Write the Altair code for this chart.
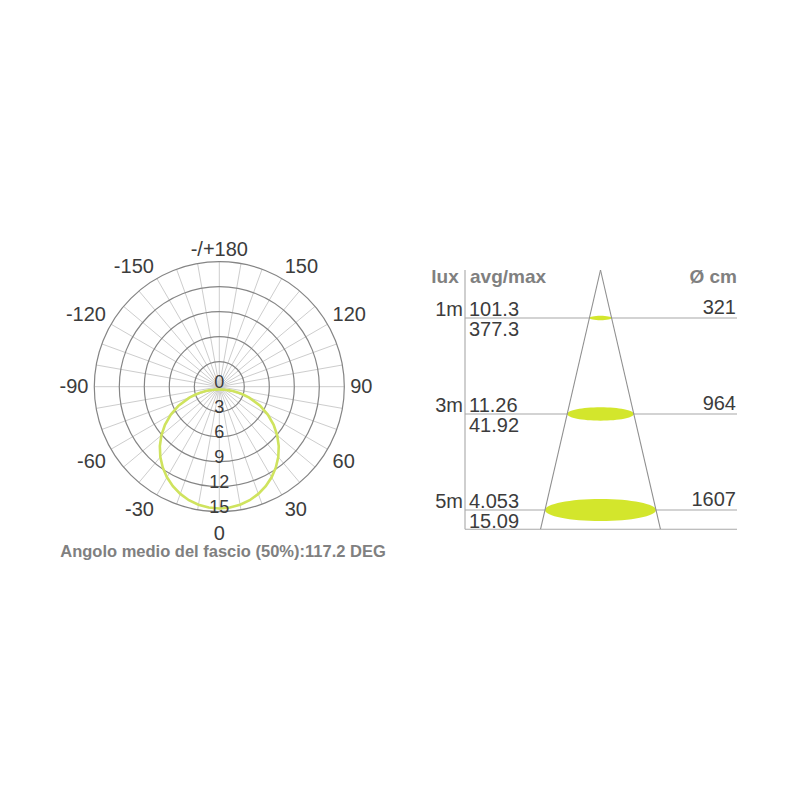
import altair as alt
import pandas as pd

# ---------------- data ----------------
# polar diagram
ring_values = [3, 6, 9, 12, 15]
radial_label_values = [0, 3, 6, 9, 12, 15]
spoke_angles = list(range(0, 360, 10))
angle_ticks = [0, 30, 60, 90, 120, 150, 180, -150, -120, -90, -60, -30]
angle_labels = ["0", "30", "60", "90", "120", "150", "-/+180",
                "-150", "-120", "-90", "-60", "-30"]
# light distribution curve (angle in degrees from nadir, intensity), traced in order
curve_angles = [-72.8, -72, -70, -65, -60, -55, -50, -45, -40, -35, -30, -25, -20, -15,
                -10, -5, 0, 5, 10, 15, 20, 25, 30, 35, 40, 45, 50, 55, 60, 65, 70, 72,
                72.8, 72, 70, 65, 60, 45, 30, 15, 0, -15, -30, -45, -60, -65, -70, -72, -72.8]
curve_values = [2.21, 2.92, 3.82, 5.40, 6.74, 7.96, 9.07, 10.09, 11.01, 11.83, 12.56, 13.18,
                13.69, 14.10, 14.39, 14.56, 14.62, 14.56, 14.39, 14.10, 13.69, 13.18, 12.56,
                11.83, 11.01, 10.09, 9.07, 7.96, 6.74, 5.40, 3.82, 2.92,
                2.21, 1.70, 1.30, 0.92, 0.74, 0.49, 0.40, 0.35, 0.34, 0.35, 0.40, 0.49,
                0.74, 0.92, 1.30, 1.70, 2.21]
subtitle = "Angolo medio del fascio (50%):117.2 DEG"

# cone diagram
distances = [1, 3, 5]
distance_labels = ["1m", "3m", "5m"]
lux_avg = ["101.3", "11.26", "4.053"]
lux_max = ["377.3", "41.92", "15.09"]
diameter_cm = [321, 964, 1607]
diameter_labels = ["321", "964", "1607"]
cone_depth = 5.4
header_labels = ["lux", "avg/max", "Ø cm"]

# ---------------- layout ----------------
FONT = "Liberation Sans"
W = H = 784
X0 = Y0 = 8
PPU = 125 / 15            # px per intensity unit
CX, CY = 219.3, 386.7     # polar centre (page px)
APX, APY = 600.5, 270     # cone apex (page px)
PXM = 48                  # px per metre
PXCM = 111 / 1607         # px per cm of diameter

DARK = "#3c3c3c"
GREY_TXT = "#808080"
LIME = "#d3e62c"
CURVE = "#cfe35e"

px = alt.Scale(domain=[-(CX - X0) / PPU, (X0 + W - CX) / PPU], nice=False, zero=False)
py = alt.Scale(domain=[-(CY - Y0) / PPU, (Y0 + H - CY) / PPU], nice=False, zero=False, reverse=True)
cx_s = alt.Scale(domain=[-(APX - X0) / PXCM, (X0 + W - APX) / PXCM], nice=False, zero=False)
cy_s = alt.Scale(domain=[-(APY - Y0) / PXM, (Y0 + H - APY) / PXM], nice=False, zero=False, reverse=True)

# ---------------- polar group ----------------
spokes = alt.Chart(pd.DataFrame({"a": spoke_angles, "r": 15})).transform_calculate(
    x0="0", y0="0",
    x1="datum.r*sin(datum.a*PI/180)", y1="datum.r*cos(datum.a*PI/180)"
).mark_rule(color="#cdcdcd", strokeWidth=1).encode(
    x=alt.X("x0:Q", scale=px, axis=None), y=alt.Y("y0:Q", scale=py, axis=None),
    x2="x1:Q", y2="y1:Q")

rings = alt.Chart(pd.DataFrame({"r": ring_values})).transform_calculate(
    x0="0", y0="0"
).mark_point(shape="circle", filled=False, stroke="#858585", strokeWidth=1.2, opacity=1).encode(
    x=alt.X("x0:Q", scale=px, axis=None), y=alt.Y("y0:Q", scale=py, axis=None),
    size=alt.Size("r:Q", legend=None,
                  scale=alt.Scale(type="pow", exponent=2, domain=[0, 15],
                                  range=[0, (2 * 15 * PPU) ** 2])))

curve = alt.Chart(pd.DataFrame({"a": curve_angles, "v": curve_values,
                                "o": list(range(len(curve_angles)))})).transform_calculate(
    x="datum.v*sin(datum.a*PI/180)", y="datum.v*cos(datum.a*PI/180)"
).mark_line(color=CURVE, strokeWidth=2.6).encode(
    x=alt.X("x:Q", scale=px, axis=None), y=alt.Y("y:Q", scale=py, axis=None),
    order="o:Q")

radial_text = alt.Chart(pd.DataFrame({"v": radial_label_values,
                                      "t": [str(v) for v in radial_label_values]})).transform_calculate(
    x0="0"
).mark_text(font=FONT, fontSize=18, color=DARK, align="center", baseline="alphabetic", dy=1).encode(
    x=alt.X("x0:Q", scale=px, axis=None), y=alt.Y("v:Q", scale=py, axis=None), text="t:N")


def side(a):
    h = "center" if a in (0, 180) else ("left" if a > 0 else "right")
    if abs(a) == 90:
        v = "middle"
    elif abs(a) < 90:
        v = "top"
    else:
        v = "alphabetic"
    return h, v


lab_df = pd.DataFrame({"a": angle_ticks, "t": angle_labels})
lab_df["g"] = [("%s|%s" % side(a)) for a in angle_ticks]
label_layers = []
for g in sorted(set(lab_df["g"])):
    h, v = g.split("|")
    extra = 6 if g == "center|top" else 0
    label_layers.append(
        alt.Chart(lab_df[lab_df["g"] == g]).transform_calculate(
            x="15.7*sin(datum.a*PI/180)", y="15.7*cos(datum.a*PI/180)"
        ).mark_text(font=FONT, fontSize=20, color=DARK, align=h, baseline=v, dy=extra).encode(
            x=alt.X("x:Q", scale=px, axis=None), y=alt.Y("y:Q", scale=py, axis=None), text="t:N"))

sub = alt.Chart(pd.DataFrame({"t": [subtitle]})).mark_text(
    font=FONT, fontSize=16.5, fontWeight="bold", color=GREY_TXT, align="center", baseline="alphabetic"
).encode(x=alt.value(223 - X0), y=alt.value(556.5 - Y0), text="t:N")

polar = alt.layer(spokes, rings, curve, radial_text, *label_layers, sub)

# ---------------- cone group ----------------
cone_df = pd.DataFrame({"d": distances, "dl": distance_labels, "avg": lux_avg, "mx": lux_max,
                        "diam": diameter_cm, "diaml": diameter_labels})

hlines = alt.Chart(pd.DataFrame({"d": distances + [cone_depth]})).mark_rule(
    color="#a8a8a8", strokeWidth=1.1).encode(
    y=alt.Y("d:Q", scale=cy_s, axis=None), x=alt.value(465 - X0), x2=alt.value(737 - X0))

vline = alt.Chart(pd.DataFrame({"top": [0], "bottom": [cone_depth]})).mark_rule(
    color="#a8a8a8", strokeWidth=1.1).encode(
    y=alt.Y("top:Q", scale=cy_s, axis=None), y2="bottom:Q", x=alt.value(465 - X0))

ELLIPSE = "M-1,0A1,0.2,0,1,1,1,0A1,0.2,0,1,1,-1,0Z"
ellipses = alt.Chart(cone_df).transform_calculate(cx="0").mark_point(
    shape=ELLIPSE, filled=True, fill=LIME, strokeWidth=0, opacity=1).encode(
    x=alt.X("cx:Q", scale=cx_s, axis=None), y=alt.Y("d:Q", scale=cy_s, axis=None),
    size=alt.Size("diam:Q", legend=None,
                  scale=alt.Scale(type="pow", exponent=2, domain=[0, max(diameter_cm)],
                                  range=[0, (max(diameter_cm) * PXCM) ** 2])))

edge_half = diameter_cm[-1] / distances[-1] * cone_depth / 2
edges = alt.Chart(pd.DataFrame({"xa": [0, 0], "ya": [0, 0],
                                "xb": [-edge_half, edge_half],
                                "yb": [cone_depth, cone_depth]})).mark_rule(
    color="#8f8f8f", strokeWidth=1.1).encode(
    x=alt.X("xa:Q", scale=cx_s, axis=None), y=alt.Y("ya:Q", scale=cy_s, axis=None),
    x2="xb:Q", y2="yb:Q")

txt_kw = dict(font=FONT, fontSize=20, color=DARK, baseline="alphabetic")
dist_t = alt.Chart(cone_df).mark_text(align="right", dy=-2, **txt_kw).encode(
    y=alt.Y("d:Q", scale=cy_s, axis=None), x=alt.value(463 - X0), text="dl:N")
avg_t = alt.Chart(cone_df).mark_text(align="left", dy=-2, **txt_kw).encode(
    y=alt.Y("d:Q", scale=cy_s, axis=None), x=alt.value(469 - X0), text="avg:N")
max_t = alt.Chart(cone_df).mark_text(align="left", dy=18, **txt_kw).encode(
    y=alt.Y("d:Q", scale=cy_s, axis=None), x=alt.value(469 - X0), text="mx:N")
diam_t = alt.Chart(cone_df).mark_text(align="right", dy=-4, **txt_kw).encode(
    y=alt.Y("d:Q", scale=cy_s, axis=None), x=alt.value(736 - X0), text="diaml:N")

hdr_kw = dict(font=FONT, fontSize=19, fontWeight="bold", color=GREY_TXT, baseline="alphabetic", dy=13)
hdr_df = pd.DataFrame({"t": header_labels, "d": [0, 0, 0]})
hdr_lux = alt.Chart(hdr_df.iloc[[0]]).mark_text(align="center", **hdr_kw).encode(
    y=alt.Y("d:Q", scale=cy_s, axis=None), x=alt.value(445 - X0), text="t:N")
hdr_avg = alt.Chart(hdr_df.iloc[[1]]).mark_text(align="left", **hdr_kw).encode(
    y=alt.Y("d:Q", scale=cy_s, axis=None), x=alt.value(470 - X0), text="t:N")
hdr_cm = alt.Chart(hdr_df.iloc[[2]]).mark_text(align="right", **hdr_kw).encode(
    y=alt.Y("d:Q", scale=cy_s, axis=None), x=alt.value(737 - X0), text="t:N")

cone = alt.layer(hlines, vline, ellipses, edges, dist_t, avg_t, max_t, diam_t,
                 hdr_lux, hdr_avg, hdr_cm)

chart = alt.layer(polar, cone).resolve_scale(
    x="independent", y="independent", size="independent"
).properties(
    width=W, height=H, padding=0, autosize="none", background="white"
).configure_view(stroke=None)

chart.save("out.html", embed_options={"renderer": "svg", "actions": False})
